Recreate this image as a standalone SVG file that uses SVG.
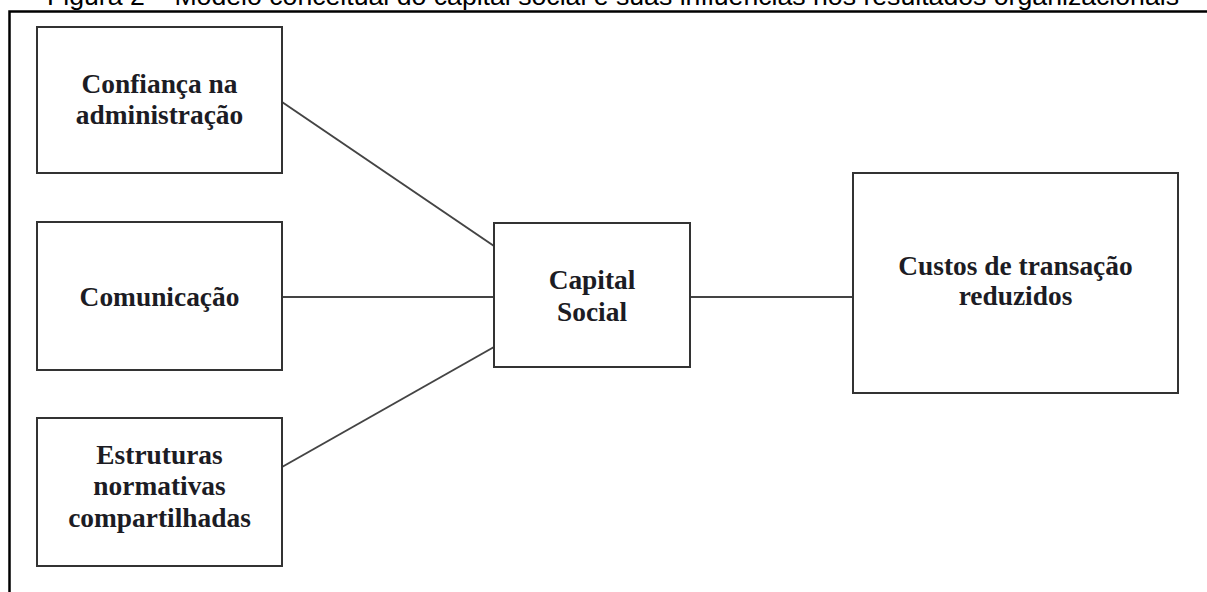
<svg xmlns="http://www.w3.org/2000/svg" width="1207" height="592" viewBox="0 0 1207 592">
  <style>
    .title { font-family: "Liberation Sans", Arial, sans-serif; font-size: 26.5px; fill: #000; }
    .box { fill: #fff; stroke: #333; stroke-width: 2; }
    .label { font-family: "Liberation Serif", "Times New Roman", serif; font-weight: bold; font-size: 27.4px; fill: #1c1c24; text-anchor: middle; }
    .link { stroke: #444; stroke-width: 2; fill: none; }
  </style>
  <rect width="1207" height="592" fill="#fff"/>

  <!-- caption, partly above the frame -->
  <text class="title" x="47" y="5" textLength="1132" lengthAdjust="spacingAndGlyphs">Figura 2 – Modelo conceitual do capital social e suas influências nos resultados organizacionais</text>

  <!-- outer frame: top and left edges -->
  <path d="M9.5 592 V11.5 H1207" fill="none" stroke="#000" stroke-width="2.5"/>

  <g id="connectors">
    <line class="link" x1="282" y1="102" x2="494" y2="246"/>
    <line class="link" x1="282" y1="297" x2="494" y2="297"/>
    <line class="link" x1="282" y1="467" x2="494" y2="347"/>
    <line class="link" x1="690" y1="297" x2="853" y2="297"/>
  </g>

  <g id="confianca">
    <rect class="box" x="37" y="27" width="245" height="146"/>
    <text class="label" x="159.5" y="93">Confiança na</text>
    <text class="label" x="159.5" y="124">administração</text>
  </g>

  <g id="comunicacao">
    <rect class="box" x="37" y="222" width="245" height="148"/>
    <text class="label" x="159.5" y="306">Comunicação</text>
  </g>

  <g id="estruturas">
    <rect class="box" x="37" y="418" width="245" height="148"/>
    <text class="label" x="159.5" y="464">Estruturas</text>
    <text class="label" x="159.5" y="495">normativas</text>
    <text class="label" x="159.5" y="527">compartilhadas</text>
  </g>

  <g id="capital-social">
    <rect class="box" x="494" y="223" width="196" height="144"/>
    <text class="label" x="592" y="289">Capital</text>
    <text class="label" x="592" y="321">Social</text>
  </g>

  <g id="custos">
    <rect class="box" x="853" y="173" width="325" height="220"/>
    <text class="label" x="1015.5" y="275">Custos de transação</text>
    <text class="label" x="1015.5" y="305">reduzidos</text>
  </g>
</svg>
